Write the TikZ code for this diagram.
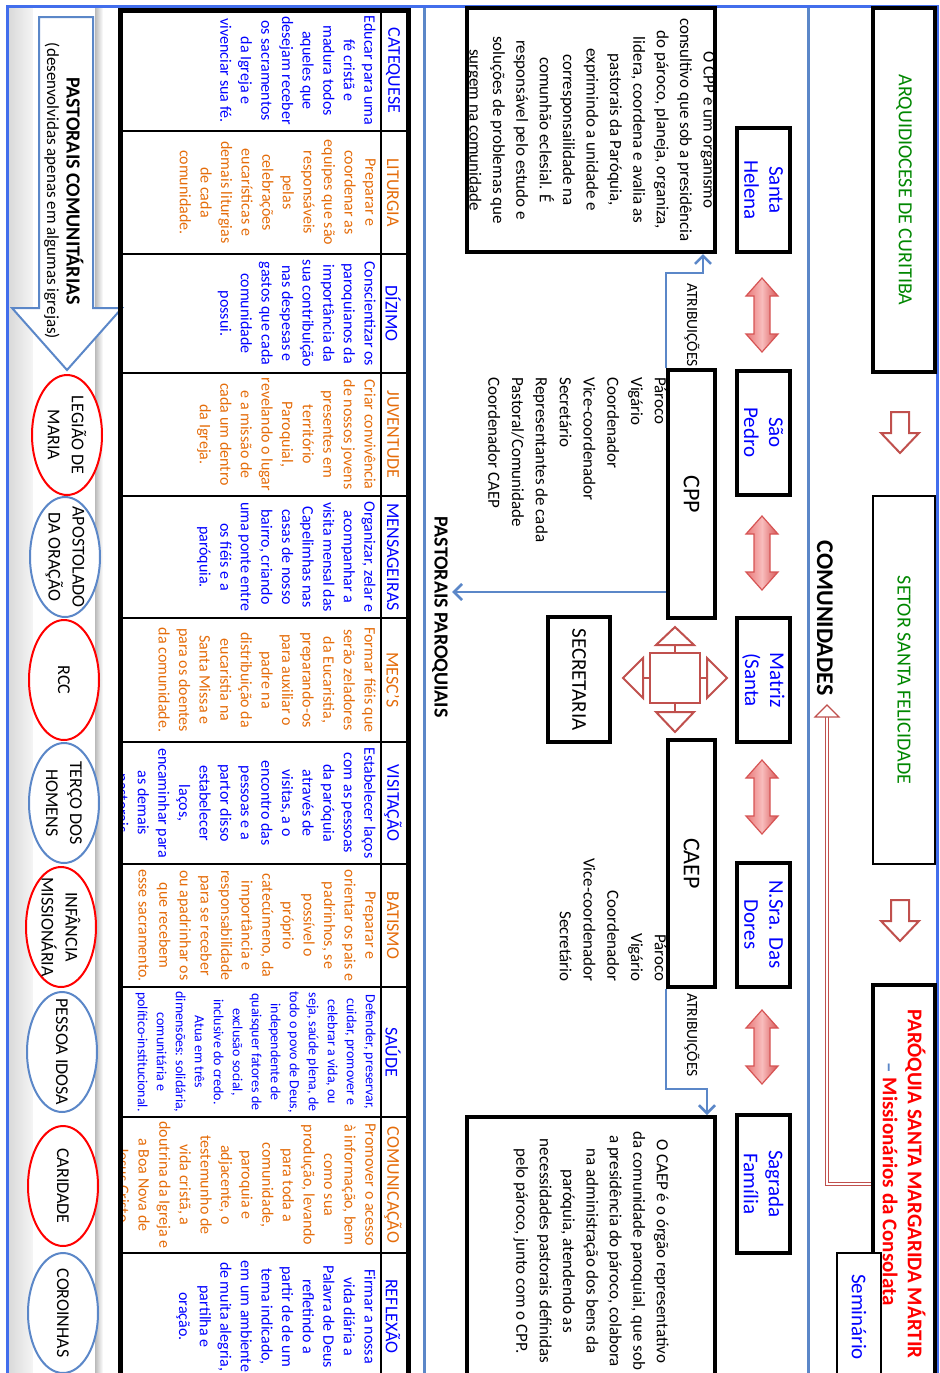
\documentclass[tikz,border=0pt]{standalone}
\usepackage{fontspec}
\setmainfont{Carlito}
\usetikzlibrary{shapes.geometric,arrows.meta,calc}
\definecolor{tblue}{RGB}{0,0,255}
\definecolor{torange}{RGB}{228,108,10}
\definecolor{tgreen}{RGB}{0,135,0}
\definecolor{tred}{RGB}{255,0,0}
\definecolor{frameblue}{RGB}{66,110,236}
\definecolor{lineblue}{RGB}{91,135,200}
\definecolor{arrowred}{RGB}{192,80,77}
\definecolor{arrowleft}{RGB}{232,118,118}
\definecolor{arrowmid}{RGB}{248,188,188}
\definecolor{arrowright}{RGB}{214,84,84}
\begin{document}
\begin{tikzpicture}[x=0.5pt, y=-0.5pt, every node/.style={rotate=-90, inner sep=0pt},
  box/.style={draw, line width=2pt, fill=white},
  thinbox/.style={draw, line width=0.8pt, fill=white},
  hdr/.style={font=\fontsize{9}{11}\selectfont},
  cell/.style={anchor=north, align=center, font=\fontsize{8}{10.3}\selectfont},
  comm/.style={box, minimum width=62pt, minimum height=26.5pt, align=center, text=tblue, font=\fontsize{10.5}{12.5}\selectfont},
  ell/.style={ellipse, draw, line width=1pt, fill=white, minimum width=60pt, minimum height=35pt, inner xsep=-6pt, align=center, font=\fontsize{9}{12}\selectfont},
  conn/.style={draw=lineblue, line width=1.3pt, -{Straight Barb[length=4pt, width=8pt]}},
  dblconn/.style={draw=arrowred, double=white, double distance=1.2pt, line width=0.6pt},
  fourway/.style={draw=arrowred, fill=white, line width=1pt},
  dblarrow/.style={draw=arrowright, line width=0.6pt, left color=arrowleft, right color=arrowright, middle color=arrowmid}]
  \useasboundingbox (0,0) rectangle (939,1373);
  \clip (0,0) rectangle (939,1373);
  % background strip and frame
  \shade[left color=gray!30, right color=gray!8] (8,6) rectangle (33,1380);
  \fill[white] (33,6) rectangle (95,1380);
  \shade[left color=gray!55, right color=white] (95,6) rectangle (103,1380);
  \draw[frameblue, line width=1.5pt] (7,1380) -- (7,6) -- (937,6) -- (937,1380);
  \draw[lineblue, line width=1.5pt] (424,8) -- (424,1380) (808,8) -- (808,1380);
  % pastorais comunitarias
  \filldraw[draw=lineblue, fill=white, line width=1pt] (39,17) -- (93,17) -- (93,308) -- (122,308) -- (67,370) -- (12,308) -- (39,308) -- cycle;
  \node[font=\bfseries\fontsize{10}{12}\selectfont] (pcom) at (75,191) {PASTORAIS COMUNITÁRIAS};
  \node[font=\fontsize{8.5}{10}\selectfont] (pcomsub) at (52,191) {(desenvolvidas apenas em algumas igrejas)};
  \node[ell, draw=tred] (legiao) at (67,435) {LEGIÃO DE\\MARIA};
  \node[ell, draw=lineblue] (apostolado) at (65,557) {APOSTOLADO\\DA ORAÇÃO};
  \node[ell, draw=tred] (rcc) at (64,680) {RCC};
  \node[ell, draw=lineblue] (terco) at (64,803) {TERÇO DOS\\HOMENS};
  \node[ell, draw=tred] (infancia) at (61,927) {INFÂNCIA\\MISSIONÁRIA};
  \node[ell, draw=lineblue] (idosa) at (62,1052) {PESSOA IDOSA};
  \node[ell, draw=tred] (caridade) at (63,1186) {CARIDADE};
  \node[ell, draw=lineblue] (coroinhas) at (63,1313) {COROINHAS};
  % tabela das pastorais
  \node[hdr, text=tblue] (catequese) at (393,70.5) {CATEQUESE};
  \node[hdr, text=torange] (liturgia) at (393,192.5) {LITURGIA};
  \node[hdr, text=tblue] (dizimo) at (393,313.5) {DÍZIMO};
  \node[hdr, text=torange] (juventude) at (393,434.5) {JUVENTUDE};
  \node[hdr, text=tblue] (mensageiras) at (393,557) {MENSAGEIRAS};
  \node[hdr, text=torange] (mescs) at (393,680) {MESC'S};
  \node[hdr, text=tblue] (visitacao) at (393,803) {VISITAÇÃO};
  \node[hdr, text=torange] (batismo) at (393,925.5) {BATISMO};
  \node[hdr, text=tblue] (saude) at (393,1052) {SAÚDE};
  \node[hdr, text=torange] (comunicacao) at (393,1185) {COMUNICAÇÃO};
  \node[hdr, text=tblue] (reflexao) at (393,1316.5) {REFLEXÃO};
  \begin{scope}
    \clip (123,12) rectangle (380,1380);
    \node[cell, text=tblue] (catequesetxt) at (376,70.5) {Educar para uma\\fé cristã e\\madura todos\\aqueles que\\desejam receber\\os sacramentos\\da Igreja e\\vivenciar sua fé.};
    \node[cell, text=torange] (liturgiatxt) at (376,192.5) {Preparar e\\coordenar as\\equipes que são\\responsáveis\\pelas\\celebrações\\eucarísticas e\\demais liturgias\\de cada\\comunidade.};
    \node[cell, text=tblue] (dizimotxt) at (376,313.5) {Conscientizar os\\paroquianos da\\importância da\\sua contribuição\\nas despesas e\\gastos que cada\\comunidade\\possui.};
    \node[cell, text=torange] (juventudetxt) at (376,434.5) {Criar convivência\\de nossos jovens\\presentes em\\território\\Paroquial,\\revelando o lugar\\e a missão de\\cada um dentro\\da Igreja.};
    \node[cell, text=tblue] (mensageirastxt) at (376,557) {Organizar, zelar e\\acompanhar a\\visita mensal das\\Capelimhas nas\\casas de nosso\\bairro, criando\\uma ponte entre\\os fiéis e a\\paróquia.};
    \node[cell, text=torange] (mescstxt) at (376,680) {Formar fiéis que\\serão zeladores\\da Eucaristia,\\preparando-os\\para auxiliar o\\padre na\\distribuição da\\eucaristia na\\Santa Missa e\\para os doentes\\da comunidade.};
    \node[cell, text=tblue] (visitacaotxt) at (376,803) {Estabelecer laços\\com as pessoas\\da paróquia\\através de\\visitas, a o\\encontro das\\pessoas e a\\partor disso\\estabelecer\\laços,\\encaminhar para\\as demais\\pastorais};
    \node[cell, text=torange] (batismotxt) at (376,925.5) {Preparar e\\orientar os pais e\\padrinhos, se\\possível o\\próprio\\catecúmeno, da\\importância e\\responsabilidade\\para se receber\\ou apadrinhar os\\que recebem\\esse sacramento.};
    \node[cell, text=tblue, font=\fontsize{7}{9.5}\selectfont] (saudetxt) at (376,1052) {Defender, preservar,\\cuidar, promover e\\celebrar a vida, ou\\seja, saúde plena, de\\todo o povo de Deus,\\independente de\\quaisquer fatores de\\exclusão social,\\inclusive do credo.\\Atua em três\\dimensões: solidária,\\comunitária e\\político-institucional.};
    \node[cell, text=torange] (comunicacaotxt) at (376,1185) {Promover o acesso\\à informação, bem\\como sua\\produção, levando\\para toda a\\comunidade,\\paroquia e\\adjacente, o\\testemunho de\\vida cristã, a\\doutrina da Igreja e\\a Boa Nova de\\Jesus Cristo};
    \node[cell, text=tblue] (reflexaotxt) at (376,1316.5) {Firmar a nossa\\vida diária a\\Palavra de Deus\\refletindo a\\partir de de um\\tema indicado,\\em um ambiente\\de muita alegria,\\partilha e\\oração.};
  \end{scope}
  \draw[line width=1pt] (381,10) -- (381,1380);
  \draw[line width=1pt] (120,131) -- (408,131) (120,254) -- (408,254) (120,373) -- (408,373) (120,496) -- (408,496)
    (120,618) -- (408,618) (120,742) -- (408,742) (120,864) -- (408,864) (120,987) -- (408,987)
    (120,1117) -- (408,1117) (120,1253) -- (408,1253);
  \draw[line width=2.5pt] (120,10) rectangle (408,1390);
  \node[font=\bfseries\fontsize{10}{12}\selectfont] (pp) at (440,617) {PASTORAIS PAROQUIAIS};
  % arquidiocese, setor, paroquia
  \node[box, minimum width=182pt, minimum height=31pt, text=tgreen, font=\fontsize{10}{12}\selectfont] (arqui) at (904,190) {ARQUIDIOCESE DE CURITIBA};
  \node[thinbox, minimum width=184pt, minimum height=31pt, text=tgreen, font=\fontsize{10}{12}\selectfont] (setor) at (904,680) {SETOR SANTA FELICIDADE};
  \node[box, minimum width=199pt, minimum height=31pt, align=center, text=tred, font=\bfseries\fontsize{10.5}{12.5}\selectfont] (pq) at (904,1184) {PARÓQUIA SANTA MARGARIDA MÁRTIR\\{\color{lineblue}–} Missionários da Consolata};
  \node[draw, line width=1.2pt, fill=white, minimum width=64pt, minimum height=22pt, text=tblue, font=\fontsize{10.5}{12.5}\selectfont] (sem) at (859,1317) {Seminário};
  \foreach \y in {412,900}
    \filldraw[draw=arrowred, fill=white, line width=1pt, shift={(900,\y)}]
      (-9,0) -- (9,0) -- (9,21) -- (19,21) -- (0,41) -- (-19,21) -- (-9,21) -- cycle;
  \node[font=\bfseries\fontsize{12}{14}\selectfont] (comunid) at (825,618) {COMUNIDADES};
  \coordinate (comtip) at (827,716);
  \draw[dblconn] (pq.south) -| (comtip);
  \filldraw[draw=arrowred, fill=white, line width=0.6pt] (comtip) ++(0,-11) -- ++(12,12) -- ++(-24,0) -- cycle;
  % comunidades
  \node[comm] (santahelena) at (763.5,190) {Santa\\Helena};
  \node[comm] (saopedro) at (763.5,432.5) {São\\Pedro};
  \node[comm] (matriz) at (763.5,680) {Matriz\\(Santa};
  \node[comm] (dores) at (763.5,924.5) {N.Sra. Das\\Dores};
  \node[comm, minimum width=69pt] (sagrada) at (763.5,1184) {Sagrada\\Família};
  \foreach \y in {315,553,797,1047}
    \shadedraw[dblarrow, shift={(762,\y)}]
      (0,-37) -- (16,-19) -- (8,-19) -- (8,19) -- (16,19) -- (0,37) -- (-16,19) -- (-8,19) -- (-8,-19) -- (-16,-19) -- cycle;
  % conselhos
  \node[box, minimum width=124pt, minimum height=23.5pt, font=\fontsize{12}{14}\selectfont] (cpp) at (691.5,494) {CPP};
  \node[box, minimum width=123.5pt, minimum height=23.5pt, font=\fontsize{12}{14}\selectfont] (caep) at (691.5,863.5) {CAEP};
  \node[box, minimum width=62.5pt, minimum height=31pt, font=\fontsize{10.5}{12.5}\selectfont] (secretaria) at (579,679.5) {SECRETARIA};
  \node[box, minimum width=122pt, minimum height=124pt, align=center, font=\fontsize{8.5}{11.7}\selectfont] (cppdesc) at (591,130) {O CPP é um organismo\\consultivo que sob a presidência\\do pároco, planeja, organiza,\\lidera, coordena e avalia as\\pastorais da Paróquia,\\exprimindo a unidade e\\corresponsailidade na\\comunhão eclesial. É\\responsável pelo estudo e\\soluções de problemas que\\surgem na comunidade};
  \node[box, minimum width=134pt, minimum height=124pt, align=center, font=\fontsize{8.5}{11.7}\selectfont] (caepdesc) at (591,1251) {O CAEP é o órgão representativo\\da comunidade paroquial, que sob\\a presidência do pároco, colabora\\na administração dos bens da\\paróquia, atendendo as\\necessidades pastorais definidas\\pelo pároco, junto com o CPP.};
  \node[anchor=north west, align=left, font=\fontsize{8.5}{11.9}\selectfont] (cppattr) at (667,377) {Pároco\\Vigário\\Coordenador\\Vice-coordenador\\Secretário\\Representantes de cada\\Pastoral/Comunidade\\Coordenador CAEP};
  \node[anchor=north east, align=right, font=\fontsize{8.5}{11.9}\selectfont] (caepattr) at (667,982) {Pároco\\Vigário\\Coordenador\\Vice-coordenador\\Secretário};
  \node[font=\fontsize{7.8}{9}\selectfont] (atrcpp) at (692,325) {ATRIBUIÇÕES};
  \node[font=\fontsize{7.8}{9}\selectfont] (atrcaep) at (692,1035) {ATRIBUIÇÕES};
  \draw[conn] (cpp.south west) -- ++(0,-95) -| ($(cppdesc.east)+(112,0)$);
  \draw[conn] (caep.south east) -- ++(0,100) -| ($(caepdesc.west)+(116,0)$);
  \draw[conn, shorten >=2pt] (cpp.south east) ++(0,-28) coordinate (cppout) -- (cppout -| pp.north);
  % secretaria hub
  \coordinate (hub) at (675,678);
  \begin{scope}[shift={(hub)}]
    \draw[fourway] (0,-25) -- (0,-33) (0,25) -- (0,34) (-25,0) -- (-32,0) (25,0) -- (32,0);
    \filldraw[fourway] (-25,-25) rectangle (25,25);
    \filldraw[fourway] (-19,-33) -- (19,-33) -- (0,-51) -- cycle;
    \filldraw[fourway] (-19,34) -- (19,34) -- (0,54) -- cycle;
    \filldraw[fourway] (-32,-20) -- (-32,20) -- (-52,0) -- cycle;
    \filldraw[fourway] (32,-20) -- (32,20) -- (52,0) -- cycle;
  \end{scope}
\end{tikzpicture}
\end{document}
